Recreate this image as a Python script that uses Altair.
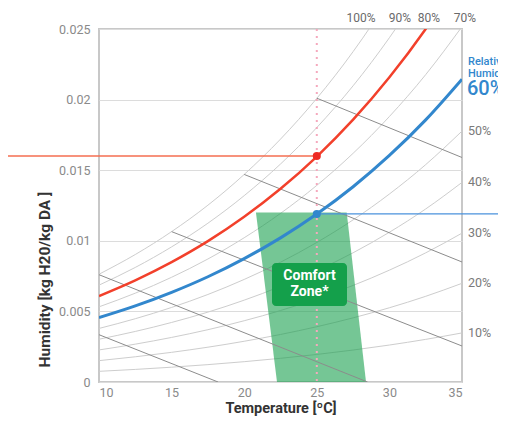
import altair as alt
import pandas as pd

# ---- data ----
temps = [10, 12.5, 15, 17.5, 20, 22.5, 25, 27.5, 30, 32.5, 35]
rh10 = [0.000755, 0.000891, 0.001049, 0.001230, 0.001439, 0.001678, 0.001952, 0.002263, 0.002618, 0.003019, 0.003475]
rh20 = [0.001512, 0.001785, 0.002101, 0.002465, 0.002885, 0.003366, 0.003916, 0.004543, 0.005258, 0.006068, 0.006989]
rh30 = [0.002270, 0.002681, 0.003157, 0.003704, 0.004338, 0.005062, 0.005893, 0.006839, 0.007921, 0.009146, 0.010542]
rh40 = [0.003031, 0.003580, 0.004217, 0.004949, 0.005797, 0.006768, 0.007882, 0.009152, 0.010606, 0.012255, 0.014136]
rh50 = [0.003793, 0.004482, 0.005280, 0.006198, 0.007264, 0.008483, 0.009884, 0.011482, 0.013314, 0.015395, 0.017771]
rh60 = [0.004557, 0.005386, 0.006347, 0.007453, 0.008737, 0.010207, 0.011899, 0.013830, 0.016046, 0.018566, 0.021448]
rh70 = [0.005323, 0.006292, 0.007417, 0.008712, 0.010217, 0.011941, 0.013926, 0.016195, 0.018801, 0.021768, 0.025167]
rh80 = [0.006091, 0.007202, 0.008491, 0.009977, 0.011704, 0.013684, 0.015967, 0.018578, 0.021580, 0.025003, 0.028929]
rh90 = [0.006860, 0.008114, 0.009569, 0.011246, 0.013198, 0.015437, 0.018021, 0.020978, 0.024383, 0.028270, 0.032736]
rh100 = [0.007632, 0.009029, 0.010650, 0.012521, 0.014699, 0.017200, 0.020087, 0.023397, 0.027211, 0.031570, 0.036590]
rh_levels = [10, 20, 30, 40, 50, 60, 70, 80, 90, 100]
rh_series = [rh10, rh20, rh30, rh40, rh50, rh60, rh70, rh80, rh90, rh100]

# constant-enthalpy (wet-bulb) lines: start / end points
enth_t0 = [10, 10, 15, 20, 25]
enth_w0 = [0.00335, 0.0076, 0.01065, 0.0147, 0.0201]
enth_t1 = [18.2, 28.5, 35, 35, 35]
enth_w1 = [0.0, 0.0, 0.00255, 0.0085, 0.0159]

# comfort zone (bottom and top edges)
zone_w = [0.0, 0.012]
zone_left = [22.26, 20.81]
zone_right = [28.39, 27.06]

# highlighted states at 25 ºC
state_t = [25, 25]
state_w = [0.016, 0.0119]
state_name = ["80%", "60%"]

right_labels = ["10%", "20%", "30%", "40%", "50%"]
top_labels = ["100%", "90%", "80%", "70%"]

# ---- frames ----
rows = []
for lvl, vals in zip(rh_levels, rh_series):
    for t, w in zip(temps, vals):
        rows.append({"T": t, "w": w, "rh": lvl})
curves = pd.DataFrame(rows)
gray_curves = curves[~curves["rh"].isin([60, 80])]
red_curve = curves[curves["rh"] == 80]
blue_curve = curves[curves["rh"] == 60]

enth = pd.DataFrame({"T": enth_t0, "w": enth_w0, "T2": enth_t1, "w2": enth_w1})
zone = pd.DataFrame({"w": zone_w, "T": zone_left, "T2": zone_right})
states = pd.DataFrame({"T": state_t, "w": state_w, "name": state_name})
right_df = pd.DataFrame({"label": right_labels, "w": [v[-1] for v in rh_series[:5]]})
top_df = pd.DataFrame({"label": top_labels, "px": [262, 301, 330, 366]})
one = pd.DataFrame({"a": [0]})

FONT = "Roboto"
xs = alt.Scale(domain=[10, 35], nice=False, zero=False)
ys = alt.Scale(domain=[0, 0.025], nice=False, zero=False)
xax = alt.Axis(values=[10, 15, 20, 25, 30, 35], title="Temperature [ºC]", grid=False, ticks=False,
               domain=False, labelColor="#8a8a8a", labelFont=FONT, labelFontSize=12.5, labelPadding=4,
               titleFont=FONT, titleFontSize=14.5, titleFontWeight="bold", titleColor="#333333",
               titleY=30, titleBaseline="alphabetic")
yax = alt.Axis(values=[0, 0.005, 0.01, 0.015, 0.02, 0.025], format="~g", title="Humidity [kg H20/kg DA ]",
               grid=True, gridColor="#dcdcdc", gridWidth=1.2, ticks=False, domain=False,
               labelColor="#8a8a8a", labelFont=FONT, labelFontSize=12.5, labelPadding=9,
               titleFont=FONT, titleFontSize=15.5, titleFontWeight="bold", titleColor="#333333",
               titleX=-47, titleY=250)


def X(f="T"):
    return alt.X(f"{f}:Q", scale=xs, axis=xax)


def Y(f="w"):
    return alt.Y(f"{f}:Q", scale=ys, axis=yax)


gray = alt.Chart(gray_curves).mark_line(clip=True, interpolate="monotone", color="#cdcdcd",
                                        strokeWidth=1).encode(x=X(), y=Y(), detail="rh:N")
enth_lines = alt.Chart(enth).mark_rule(clip=True, color="#8c8c8c", strokeWidth=1).encode(
    x=X(), y=Y(), x2="T2:Q", y2="w2:Q")
zone_area = alt.Chart(zone).mark_area(orient="horizontal", color="#19a04f", opacity=0.6).encode(
    y=Y(), x=X(), x2="T2:Q")
pink = alt.Chart(pd.DataFrame({"T": [25]})).mark_rule(color="#f5a9bd", strokeWidth=2,
                                                      strokeDash=[2, 5]).encode(
    x=X(), y=alt.value(0), y2=alt.value(353))
red = alt.Chart(red_curve).mark_line(clip=True, interpolate="monotone", color="#f2402b",
                                     strokeWidth=2.5).encode(x=X(), y=Y())
blue = alt.Chart(blue_curve).mark_line(clip=True, interpolate="monotone", color="#3287cd",
                                       strokeWidth=3).encode(x=X(), y=Y())
red_h = alt.Chart(pd.DataFrame({"T": [3.0], "T2": [25], "w": [state_w[0]]})).mark_rule(
    color="#f46e50", strokeWidth=1.5).encode(x=X(), x2="T2:Q", y=Y())
blue_h = alt.Chart(pd.DataFrame({"T": [25], "T2": [40], "w": [state_w[1]]})).mark_rule(
    color="#4a92dc", strokeWidth=1.3).encode(x=X(), x2="T2:Q", y=Y())
pts = alt.Chart(states).mark_circle(size=65, opacity=1).encode(
    x=X(), y=Y(),
    color=alt.Color("name:N", scale=alt.Scale(domain=["80%", "60%"], range=["#ee2b24", "#3287cd"]),
                    legend=None))
box = alt.Chart(one).mark_rect(color="#14a04b", cornerRadius=4).encode(
    x=alt.value(173), x2=alt.value(248), y=alt.value(234), y2=alt.value(277))
box_t1 = alt.Chart(one).mark_text(text="Comfort", color="white", font=FONT, fontSize=14,
                                  fontWeight="bold").encode(x=alt.value(210.5), y=alt.value(247))
box_t2 = alt.Chart(one).mark_text(text="Zone*", color="white", font=FONT, fontSize=14,
                                  fontWeight="bold").encode(x=alt.value(210.5), y=alt.value(263))
rlab = alt.Chart(right_df).mark_text(align="left", baseline="middle", color="#7a7a7a", font=FONT,
                                     fontSize=12.5).encode(x=alt.value(369), y=Y(), text="label:N")
tlab = alt.Chart(top_df).mark_text(align="center", baseline="middle", color="#6a6a6a", font=FONT,
                                   fontSize=12).encode(x=alt.X("px:Q", scale=None), y=alt.value(-11),
                                                       text="label:N")
rel1 = alt.Chart(one).mark_text(text="Relative", align="left", baseline="middle", color="#3287cd",
                                font=FONT, fontSize=11, fontWeight=500).encode(
    x=alt.value(369), y=alt.value(33))
rel2 = alt.Chart(one).mark_text(text="Humidity", align="left", baseline="middle", color="#3287cd",
                                font=FONT, fontSize=11, fontWeight=500).encode(
    x=alt.value(369), y=alt.value(44.5))
rel3 = alt.Chart(one).mark_text(text="60%", align="left", baseline="middle", color="#3287cd",
                                font=FONT, fontSize=20, fontWeight=500).encode(
    x=alt.value(368), y=alt.value(60))

chart = alt.layer(
    gray, zone_area, enth_lines, pink, red, blue, red_h, blue_h, pts, box, box_t1, box_t2,
    rlab, tlab, rel1, rel2, rel3
).properties(
    width=363, height=353,
    autosize=alt.AutoSizeParams(type="none"),
    padding={"left": 91, "top": 21, "right": 36, "bottom": 34},
).configure_view(stroke="#c8c8c8", strokeWidth=2)

chart.save("out.html", embed_options={"renderer": "svg", "actions": False})
